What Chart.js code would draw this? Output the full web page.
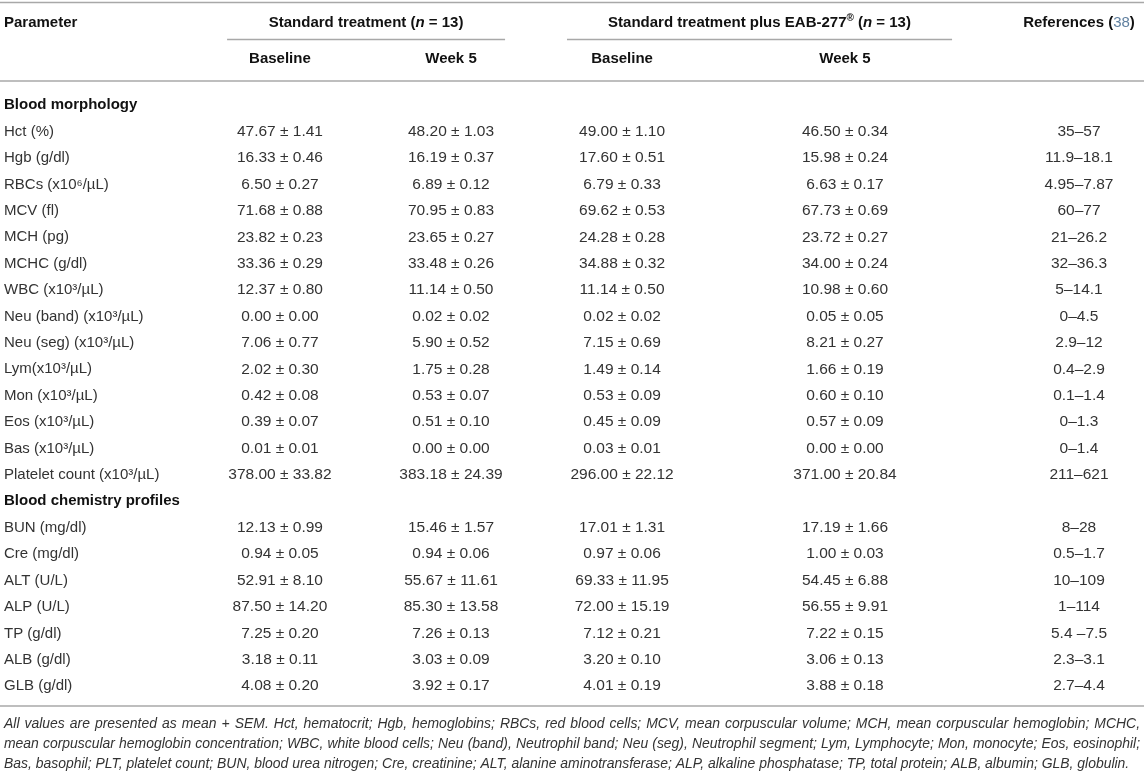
<!DOCTYPE html>
<html>
<head>
<meta charset="utf-8">
<script src="https://cdn.jsdelivr.net/npm/chart.js@4.4.0/dist/chart.umd.min.js"></script>
<style>
  html, body { margin: 0; padding: 0; background: #fff; }
  #wrap { width: 1144px; height: 773px; }
</style>
</head>
<body>
<div id="wrap"><canvas id="tbl" width="1144" height="773"></canvas></div>
<script>
// rows
const sections = ['Blood morphology', 'Blood chemistry profiles'];
const morphologyParams = [
    'Hct (%)', 'Hgb (g/dl)', 'RBCs (x10⁶/µL)', 'MCV (fl)', 'MCH (pg)', 'MCHC (g/dl)',
    'WBC (x10³/µL)', 'Neu (band) (x10³/µL)', 'Neu (seg) (x10³/µL)', 'Lym(x10³/µL)',
    'Mon (x10³/µL)', 'Eos (x10³/µL)', 'Bas (x10³/µL)', 'Platelet count (x10³/µL)'
];
const chemistryParams = [
    'BUN (mg/dl)', 'Cre (mg/dl)', 'ALT (U/L)', 'ALP (U/L)', 'TP (g/dl)', 'ALB (g/dl)', 'GLB (g/dl)'
];

// Standard treatment (n = 13)
const stdBaseMean = [47.67, 16.33, 6.50, 71.68, 23.82, 33.36, 12.37, 0.00, 7.06, 2.02, 0.42, 0.39, 0.01, 378.00,
                     12.13, 0.94, 52.91, 87.50, 7.25, 3.18, 4.08];
const stdBaseSem  = [1.41, 0.46, 0.27, 0.88, 0.23, 0.29, 0.80, 0.00, 0.77, 0.30, 0.08, 0.07, 0.01, 33.82,
                     0.99, 0.05, 8.10, 14.20, 0.20, 0.11, 0.20];
const stdWk5Mean  = [48.20, 16.19, 6.89, 70.95, 23.65, 33.48, 11.14, 0.02, 5.90, 1.75, 0.53, 0.51, 0.00, 383.18,
                     15.46, 0.94, 55.67, 85.30, 7.26, 3.03, 3.92];
const stdWk5Sem   = [1.03, 0.37, 0.12, 0.83, 0.27, 0.26, 0.50, 0.02, 0.52, 0.28, 0.07, 0.10, 0.00, 24.39,
                     1.57, 0.06, 11.61, 13.58, 0.13, 0.09, 0.17];

// Standard treatment plus EAB-277 (n = 13)
const eabBaseMean = [49.00, 17.60, 6.79, 69.62, 24.28, 34.88, 11.14, 0.02, 7.15, 1.49, 0.53, 0.45, 0.03, 296.00,
                     17.01, 0.97, 69.33, 72.00, 7.12, 3.20, 4.01];
const eabBaseSem  = [1.10, 0.51, 0.33, 0.53, 0.28, 0.32, 0.50, 0.02, 0.69, 0.14, 0.09, 0.09, 0.01, 22.12,
                     1.31, 0.06, 11.95, 15.19, 0.21, 0.10, 0.19];
const eabWk5Mean  = [46.50, 15.98, 6.63, 67.73, 23.72, 34.00, 10.98, 0.05, 8.21, 1.66, 0.60, 0.57, 0.00, 371.00,
                     17.19, 1.00, 54.45, 56.55, 7.22, 3.06, 3.88];
const eabWk5Sem   = [0.34, 0.24, 0.17, 0.69, 0.27, 0.24, 0.60, 0.05, 0.27, 0.19, 0.10, 0.09, 0.00, 20.84,
                     1.66, 0.03, 6.88, 9.91, 0.15, 0.13, 0.18];

const referenceRanges = ['35–57', '11.9–18.1', '4.95–7.87', '60–77', '21–26.2', '32–36.3', '5–14.1', '0–4.5',
                         '2.9–12', '0.4–2.9', '0.1–1.4', '0–1.3', '0–1.4', '211–621',
                         '8–28', '0.5–1.7', '10–109', '1–114', '5.4 –7.5', '2.3–3.1', '2.7–4.4'];

const footnoteLines = [
    'All values are presented as mean + SEM. Hct, hematocrit; Hgb, hemoglobins; RBCs, red blood cells; MCV, mean corpuscular volume; MCH, mean corpuscular hemoglobin; MCHC,',
    'mean corpuscular hemoglobin concentration; WBC, white blood cells; Neu (band), Neutrophil band; Neu (seg), Neutrophil segment; Lym, Lymphocyte; Mon, monocyte; Eos, eosinophil;',
    'Bas, basophil; PLT, platelet count; BUN, blood urea nitrogen; Cre, creatinine; ALT, alanine aminotransferase; ALP, alkaline phosphatase; TP, total protein; ALB, albumin; GLB, globulin.'
];

// layout (x in column units)
const FONT = '"Liberation Sans", Arial, Helvetica, sans-serif';
const colSlot = [0.479, 1.479, 2.479, 3.782, 5.15];
const groupSpan = [[0.17, 1.795], [2.157, 4.408]];
const ruleColor = '#a8a8a8';
const headColor = '#111';
const bodyColor = '#333';

const rowLabels = [sections[0], ...morphologyParams, sections[1], ...chemistryParams];
const params = [...morphologyParams, ...chemistryParams];
const fmt = (m, s) => m.toFixed(2) + ' ± ' + s.toFixed(2);

const columns = [
    { label: 'Standard treatment – Baseline', text: stdBaseMean.map((m, i) => fmt(m, stdBaseSem[i])) },
    { label: 'Standard treatment – Week 5', text: stdWk5Mean.map((m, i) => fmt(m, stdWk5Sem[i])) },
    { label: 'EAB-277 – Baseline', text: eabBaseMean.map((m, i) => fmt(m, eabBaseSem[i])) },
    { label: 'EAB-277 – Week 5', text: eabWk5Mean.map((m, i) => fmt(m, eabWk5Sem[i])) },
    { label: 'References', text: referenceRanges }
];

// draw a row of mixed-font text pieces centred on cx
function drawRuns(ctx, runs, cx, y) {
    let total = 0;
    runs.forEach(r => { ctx.font = r.font; r.w = ctx.measureText(r.t).width; total += r.w; });
    let x = cx - total / 2;
    ctx.textAlign = 'left';
    runs.forEach(r => {
        ctx.font = r.font;
        ctx.fillStyle = r.color || headColor;
        ctx.fillText(r.t, x, y + (r.dy || 0));
        x += r.w;
    });
}

function hRule(ctx, x1, x2, y, w) {
    ctx.beginPath();
    ctx.strokeStyle = ruleColor;
    ctx.lineWidth = w;
    ctx.moveTo(x1, y);
    ctx.lineTo(x2, y);
    ctx.stroke();
}

const cellPlugin = {
    id: 'cellText',
    afterDatasetsDraw(chart) {
        const ctx = chart.ctx;
        ctx.save();
        ctx.font = '15.5px ' + FONT;
        ctx.fillStyle = bodyColor;
        ctx.textAlign = 'center';
        ctx.textBaseline = 'middle';
        chart.data.datasets.forEach((ds, di) => {
            chart.getDatasetMeta(di).data.forEach((el, i) => {
                ctx.fillText(ds.cellText[i], el.x, el.y);
            });
        });
        ctx.restore();
    }
};

const framePlugin = {
    id: 'tableFrame',
    afterDraw(chart) {
        const ctx = chart.ctx;
        const xs = chart.scales.x;
        const W = chart.width;
        const B = 'bold 15px ' + FONT;
        const BI = 'italic bold 15px ' + FONT;
        ctx.save();
        ctx.textBaseline = 'middle';

        hRule(ctx, 0, W, 2.5, 1.6);
        hRule(ctx, 0, W, 81, 1.6);
        hRule(ctx, 0, W, 706, 1.6);
        groupSpan.forEach(g => hRule(ctx, xs.getPixelForValue(g[0]), xs.getPixelForValue(g[1]), 39.5, 1.3));

        ctx.font = B;
        ctx.fillStyle = headColor;
        ctx.textAlign = 'left';
        ctx.fillText('Parameter', 4, 23);

        const g1 = (xs.getPixelForValue(groupSpan[0][0]) + xs.getPixelForValue(groupSpan[0][1])) / 2;
        const g2 = (xs.getPixelForValue(groupSpan[1][0]) + xs.getPixelForValue(groupSpan[1][1])) / 2;
        drawRuns(ctx, [{ t: 'Standard treatment (', font: B }, { t: 'n', font: BI }, { t: ' = 13)', font: B }], g1, 23);
        drawRuns(ctx, [
            { t: 'Standard treatment plus EAB-277', font: B },
            { t: '®', font: 'bold 10px ' + FONT, dy: -5 },
            { t: ' (', font: B }, { t: 'n', font: BI }, { t: ' = 13)', font: B }
        ], g2, 23);
        drawRuns(ctx, [
            { t: 'References (', font: B },
            { t: '38', font: '15px ' + FONT, color: '#5f7f9f' },
            { t: ')', font: B }
        ], xs.getPixelForValue(colSlot[4]), 23);

        ['Baseline', 'Week 5', 'Baseline', 'Week 5'].forEach((t, i) => {
            drawRuns(ctx, [{ t, font: B }], xs.getPixelForValue(colSlot[i]), 59);
        });

        // footnote, justified except last line
        ctx.fillStyle = bodyColor;
        ctx.textAlign = 'left';
        ctx.font = 'italic 14px ' + FONT;
        const natural = ctx.measureText(footnoteLines[2]).width;
        const size = Math.min(15, 14 * 1126 / natural);
        ctx.font = 'italic ' + size.toFixed(2) + 'px ' + FONT;
        const left = 4, right = 1140;
        footnoteLines.forEach((line, li) => {
            const y = 724 + li * 20;
            if (li === footnoteLines.length - 1) { ctx.fillText(line, left, y); return; }
            const words = line.split(' ');
            const wordsW = words.reduce((a, w) => a + ctx.measureText(w).width, 0);
            const gap = (right - left - wordsW) / (words.length - 1);
            let x = left;
            words.forEach(w => { ctx.fillText(w, x, y); x += ctx.measureText(w).width + gap; });
        });
        ctx.restore();
    }
};

const chart = new Chart(document.getElementById('tbl'), {
    type: 'scatter',
    data: {
        datasets: columns.map((c, ci) => ({
            label: c.label,
            data: params.map(p => ({ x: colSlot[ci], y: p })),
            cellText: c.text,
            pointRadius: 0,
            pointHoverRadius: 0
        }))
    },
    options: {
        responsive: false,
        animation: false,
        events: [],
        layout: { padding: { top: 92, bottom: 73.6, left: 4, right: 0 } },
        plugins: { legend: { display: false }, tooltip: { enabled: false } },
        scales: {
            x: { type: 'linear', display: false, min: 0, max: 5.53 },
            y: {
                type: 'category',
                labels: rowLabels,
                offset: true,
                position: 'left',
                grid: { display: false, drawTicks: false },
                border: { display: false },
                afterFit: scale => { scale.width = 194; },
                ticks: {
                    autoSkip: false,
                    crossAlign: 'far',
                    padding: 0,
                    color: c => sections.includes(rowLabels[c.index]) ? headColor : bodyColor,
                    font: c => ({
                        family: FONT,
                        size: 15,
                        weight: sections.includes(rowLabels[c.index]) ? 'bold' : 'normal'
                    })
                }
            }
        }
    },
    plugins: [cellPlugin, framePlugin]
});
</script>
</body>
</html>
